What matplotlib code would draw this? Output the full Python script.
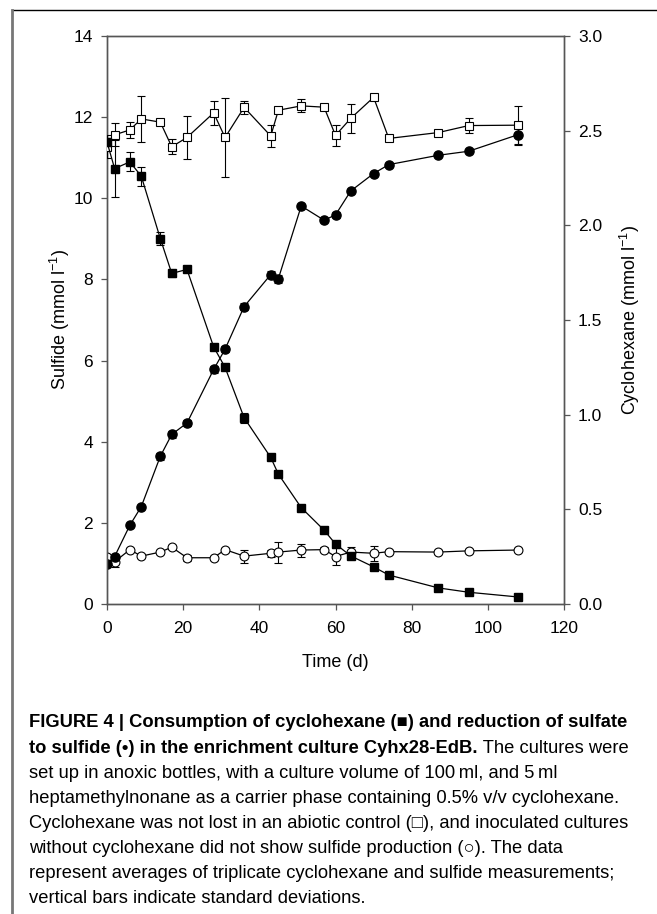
import matplotlib
matplotlib.use("Agg")
import matplotlib.pyplot as plt
from matplotlib.lines import Line2D

plt.rcParams['font.family'] = ['Liberation Sans', 'DejaVu Sans']
plt.rcParams['mathtext.default'] = 'regular'

# -------------------------------
# Datos
# -------------------------------
time_d = [0, 2, 6, 9, 14, 17, 21, 28, 31, 36, 43, 45, 51, 57, 60, 64, 70, 74, 87, 95, 108]

# sulfuro en el cultivo (circulos llenos, eje izquierdo)
sulfide = [0.99, 1.17, 1.94, 2.40, 3.64, 4.18, 4.46, 5.78, 6.28, 7.33, 8.12, 8.02,
           9.81, 9.46, 9.59, 10.18, 10.61, 10.83, 11.06, 11.16, 11.57]
sulfide_sd = [0.05, 0.05, 0.05, 0.05, 0.08, 0.08, 0.08, 0.08, 0.08, 0.08, 0.08, 0.10,
              0.05, 0.05, 0.08, 0.05, 0.05, 0.05, 0.05, 0.05, 0.25]

# control sin ciclohexano (circulos abiertos, eje izquierdo)
sulfide_ctrl = [1.15, 1.04, 1.34, 1.18, 1.28, 1.40, 1.14, 1.14, 1.34, 1.18, 1.25, 1.28,
                1.33, 1.34, 1.17, 1.28, 1.25, 1.29, 1.28, 1.31, 1.33]
sulfide_ctrl_sd = [0.05, 0.12, 0.05, 0.05, 0.05, 0.05, 0.08, 0.05, 0.05, 0.16, 0.08, 0.26,
                   0.16, 0.07, 0.21, 0.12, 0.18, 0.05, 0.05, 0.05, 0.05]

# ciclohexano en el cultivo (cuadrados llenos, eje derecho)
cyclohexane = [2.44, 2.30, 2.335, 2.26, 1.93, 1.746, 1.767, 1.358, 1.25, 0.984, 0.774, 0.686,
               0.509, 0.39, 0.317, 0.254, 0.196, 0.153, 0.085, 0.062, 0.037]
cyclohexane_sd = [0.02, 0.15, 0.05, 0.05, 0.035, 0.02, 0.015, 0.01, 0.015, 0.027, 0.01, 0.015,
                  0.01, 0.01, 0.01, 0.01, 0.01, 0.01, 0.01, 0.01, 0.01]

# control abiotico (cuadrados abiertos, eje derecho)
cyclohexane_ctrl = [2.415, 2.478, 2.504, 2.562, 2.545, 2.415, 2.464, 2.594, 2.464, 2.623, 2.472,
                    2.608, 2.631, 2.624, 2.475, 2.565, 2.676, 2.459, 2.49, 2.527, 2.529]
cyclohexane_ctrl_sd = [0.06, 0.06, 0.043, 0.12, 0.01, 0.04, 0.115, 0.065, 0.21, 0.036, 0.06,
                       0.015, 0.034, 0.01, 0.057, 0.075, 0.015, 0.015, 0.01, 0.04, 0.10]

left_ticks = [0, 2, 4, 6, 8, 10, 12, 14]
right_ticks = [0.0, 0.5, 1.0, 1.5, 2.0, 2.5, 3.0]
x_ticks = [0, 20, 40, 60, 80, 100, 120]

caption_bold_1 = "FIGURE 4 | Consumption of cyclohexane (\u25A0) and reduction of sulfate"
caption_bold_2 = "to sulfide (\u2022) in the enrichment culture Cyhx28-EdB."
caption_rest_2 = " The cultures were"
caption_lines = [
    "set up in anoxic bottles, with a culture volume of 100\u2009ml, and 5\u2009ml",
    "heptamethylnonane as a carrier phase containing 0.5% v/v cyclohexane.",
    "Cyclohexane was not lost in an abiotic control (\u25A1), and inoculated cultures",
    "without cyclohexane did not show sulfide production (\u25CB). The data",
    "represent averages of triplicate cyclohexane and sulfide measurements;",
    "vertical bars indicate standard deviations.",
]

# -------------------------------
# Figura
# -------------------------------
W, H = 657, 914
fig = plt.figure(figsize=(W / 100, H / 100), dpi=100)
ax = fig.add_axes([107 / W, 1 - 604 / H, (564 - 107) / W, (604 - 36) / H])
ax2 = ax.twinx()

spine_col = '#555555'
err_kw = dict(ecolor='black', elinewidth=0.8, capsize=3.2, capthick=0.8, lw=0.9, color='black')

ax.errorbar(time_d, sulfide_ctrl, yerr=sulfide_ctrl_sd, marker='o', ms=6.4, mfc='white',
            mec='black', mew=0.8, zorder=3, **err_kw)
ax.errorbar(time_d, sulfide, yerr=sulfide_sd, marker='o', ms=6.6, mfc='black',
            mec='black', zorder=4, **err_kw)
ax2.errorbar(time_d, cyclohexane_ctrl, yerr=cyclohexane_ctrl_sd, marker='s', ms=5.6, mfc='white',
             mec='black', mew=0.8, zorder=3, **err_kw)
ax2.errorbar(time_d, cyclohexane, yerr=cyclohexane_sd, marker='s', ms=6.0, mfc='black',
             mec='black', zorder=4, **err_kw)

ax.set_xlim(0, 120)
ax.set_ylim(0, 14)
ax2.set_ylim(0, 3.0)
ax.set_xticks(x_ticks)
ax.set_yticks(left_ticks)
ax2.set_yticks(right_ticks)
ax2.set_yticklabels([f"{v:.1f}" for v in right_ticks])

for a in (ax, ax2):
    for s in a.spines.values():
        s.set_color(spine_col)
        s.set_linewidth(1.0)
    a.tick_params(direction='out', length=4, width=0.9, color=spine_col,
                  labelsize=12.5, pad=6)
ax.tick_params(axis='x', pad=8)
ax.patch.set_visible(False)

ax.set_xlabel("Time (d)", fontsize=13, labelpad=13)
ax.set_ylabel("Sulfide (mmol l$^{-1}$)", fontsize=13, labelpad=1)
ax2.set_ylabel("Cyclohexane (mmol l$^{-1}$)", fontsize=13, labelpad=11)

# marco de la pagina
fig.add_artist(Line2D([12 / W, 1.0], [1 - 10 / H, 1 - 10 / H], color='black', lw=1.0))
fig.add_artist(Line2D([12 / W, 12 / W], [1 - 10 / H, 0.0], color='#777777', lw=2.0))

# -------------------------------
# Leyenda de la figura
# -------------------------------
cap_font = ['Liberation Sans Narrow', 'Liberation Sans', 'DejaVu Sans']
cap_size = 13.2
x0 = 29 / W
base_y = [727, 753, 778, 803, 828, 853, 878, 903]

fig.text(x0, 1 - base_y[0] / H, caption_bold_1, fontsize=cap_size, fontweight='bold',
         family=cap_font, va='baseline')
t2 = fig.text(x0, 1 - base_y[1] / H, caption_bold_2, fontsize=cap_size, fontweight='bold',
              family=cap_font, va='baseline')
fig.canvas.draw()
bb = t2.get_window_extent()
fig.text(bb.x1 / W, 1 - base_y[1] / H, caption_rest_2, fontsize=cap_size,
         family=cap_font, va='baseline')
for line, yb in zip(caption_lines, base_y[2:]):
    fig.text(x0, 1 - yb / H, line, fontsize=cap_size, family=cap_font, va='baseline')

fig.savefig("out.png", dpi=100)
